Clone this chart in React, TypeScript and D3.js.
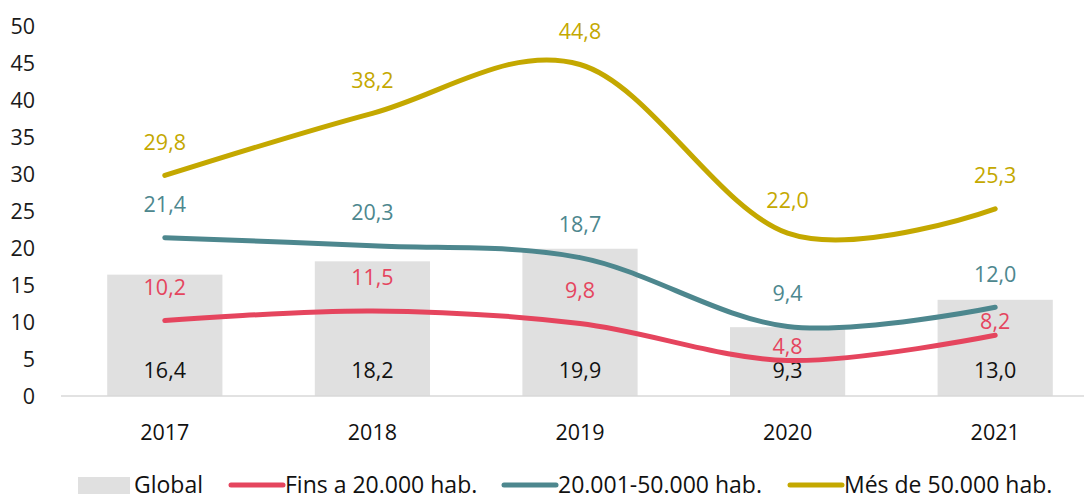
import React from 'react';
import * as d3 from 'd3';

const years = ['2017', '2018', '2019', '2020', '2021'];
const globalValues = [16.4, 18.2, 19.9, 9.3, 13.0];
const smallTowns = [10.2, 11.5, 9.8, 4.8, 8.2];
const midTowns = [21.4, 20.3, 18.7, 9.4, 12.0];
const bigTowns = [29.8, 38.2, 44.8, 22.0, 25.3];
const yTicks = [0, 5, 10, 15, 20, 25, 30, 35, 40, 45, 50];

const FONT = '"Open Sans", "Noto Sans", sans-serif';
const FS = 21.5;

const series = [
  { name: 'Fins a 20.000 hab.', values: smallTowns, color: '#E5455E', near: [false, false, false, true, true] },
  { name: '20.001-50.000 hab.', values: midTowns, color: '#4D878E', near: [false, false, false, false, false] },
  { name: 'Més de 50.000 hab.', values: bigTowns, color: '#C4A800', near: [false, false, false, false, false] },
];

const fmt = (v: number) => v.toFixed(1).replace('.', ',');

export default function App() {
  const width = 1084;
  const height = 496;

  const x = d3.scaleBand().domain(years).range([61, 1099]).paddingInner(0.445).paddingOuter(0.2225);
  const y = d3.scaleLinear().domain([0, 50]).range([396, 26]);
  const cx = (yr: string) => (x(yr) ?? 0) + x.bandwidth() / 2;

  const line = d3.line<number>()
    .x((_, i) => cx(years[i]))
    .y(d => y(d))
    .curve(d3.curveCatmullRom.alpha(0));

  const legendItems = [
    { label: 'Global', x: 78, kind: 'bar', color: '#E0E0E0' },
    { label: series[0].name, x: 229, kind: 'line', color: series[0].color },
    { label: series[1].name, x: 502, kind: 'line', color: series[1].color },
    { label: series[2].name, x: 788, kind: 'line', color: series[2].color },
  ];

  return (
    <svg width={width} height={height} style={{ position: 'absolute', left: 0, top: 0, fontFamily: FONT }}>
      {/* y axis labels */}
      {yTicks.map(t => (
        <text key={t} x={35} y={y(t)} dy="0.35em" textAnchor="end" fontSize={FS} fill="#1a1a1a">{t}</text>
      ))}

      {/* bars */}
      {globalValues.map((v, i) => (
        <g key={years[i]}>
          <rect x={x(years[i])} y={y(v)} width={x.bandwidth()} height={y(0) - y(v)} fill="#E0E0E0" />
          <text x={cx(years[i])} y={370} dy="0.35em" textAnchor="middle" fontSize={FS} fill="#111">{fmt(v)}</text>
        </g>
      ))}

      {/* baseline */}
      <line x1={61} x2={1099} y1={y(0)} y2={y(0)} stroke="#D9D9D9" strokeWidth={1.5} />

      {/* x labels */}
      {years.map(yr => (
        <text key={yr} x={cx(yr)} y={432} dy="0.35em" textAnchor="middle" fontSize={FS} fill="#111">{yr}</text>
      ))}

      {/* lines */}
      {series.map(s => (
        <path key={s.name} d={line(s.values) ?? ''} fill="none" stroke={s.color} strokeWidth={5} strokeLinecap="round" />
      ))}

      {/* line labels */}
      {series.map(s => s.values.map((v, i) => (
        <text key={s.name + i} x={cx(years[i])} y={y(v) - (s.near[i] ? 14 : 33)} dy="0.35em"
          textAnchor="middle" fontSize={FS} fill={s.color}>{fmt(v)}</text>
      )))}

      {/* legend */}
      {legendItems.map(it => (
        <g key={it.label}>
          {it.kind === 'bar'
            ? <rect x={it.x} y={477} width={52} height={17} fill={it.color} />
            : <line x1={it.x + 2} x2={it.x + 54} y1={485} y2={485} stroke={it.color} strokeWidth={5} strokeLinecap="round" />}
          <text x={it.x + 56} y={485} dy="0.35em" fontSize={23} fill="#111">{it.label}</text>
        </g>
      ))}
    </svg>
  );
}
